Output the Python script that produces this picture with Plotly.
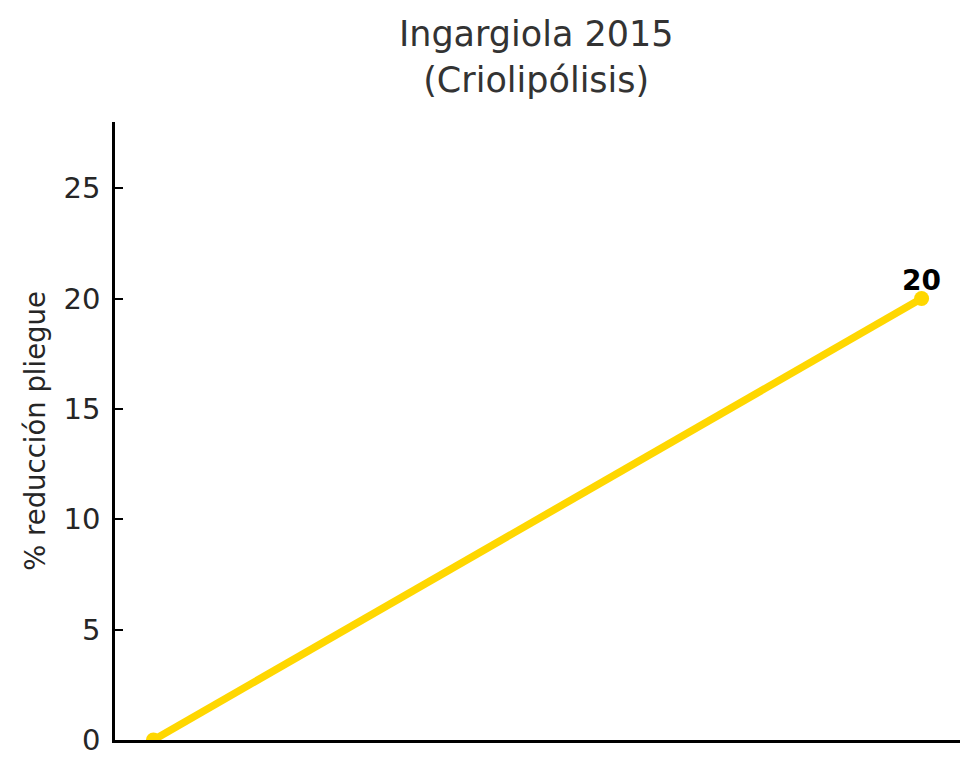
import plotly.graph_objects as go

# datos
puntos = [0, 1]
reduccion = [0, 20]
etiqueta_final = "20"

fig = go.Figure()
fig.add_trace(go.Scatter(
    x=puntos, y=reduccion,
    mode="lines+markers",
    line=dict(color="#FFD700", width=7.5),
    marker=dict(color="#FFD700", size=15),
    showlegend=False,
))

# etiqueta del último punto
fig.add_annotation(x=puntos[-1], y=reduccion[-1], text="<b>" + etiqueta_final + "</b>",
                   showarrow=False, xanchor="center", yanchor="bottom", yshift=0,
                   font=dict(family="DejaVu Sans", size=28, color="black"))

# la página tiene 8px de margen, se compensa aquí
fig.update_layout(
    width=980, height=780,
    paper_bgcolor="white", plot_bgcolor="white",
    margin=dict(l=107, r=28, t=114, b=48),
    font=dict(family="DejaVu Sans", color="#262626"),
    title=dict(text="Ingargiola 2015<br>(Criolipólisis)", x=0.539, xanchor="center",
               y=0.951, yanchor="top", font=dict(size=35, color="#333333")),
)
fig.update_xaxes(range=[-0.05, 1.05], showticklabels=False, ticks="",
                 showgrid=False, zeroline=False, showline=True,
                 linecolor="black", linewidth=2.5)
fig.update_yaxes(range=[0, 28], tickvals=[0, 5, 10, 15, 20, 25],
                 ticks="inside", ticklen=8, tickwidth=2, tickcolor="black",
                 tickfont=dict(size=29, color="#262626"), ticklabelstandoff=6,
                 showgrid=False, zeroline=False, showline=True,
                 linecolor="black", linewidth=2.5,
                 title=dict(text="% reducción pliegue", font=dict(size=27.5, color="#262626"),
                            standoff=10))

fig.write_html("out.html")
